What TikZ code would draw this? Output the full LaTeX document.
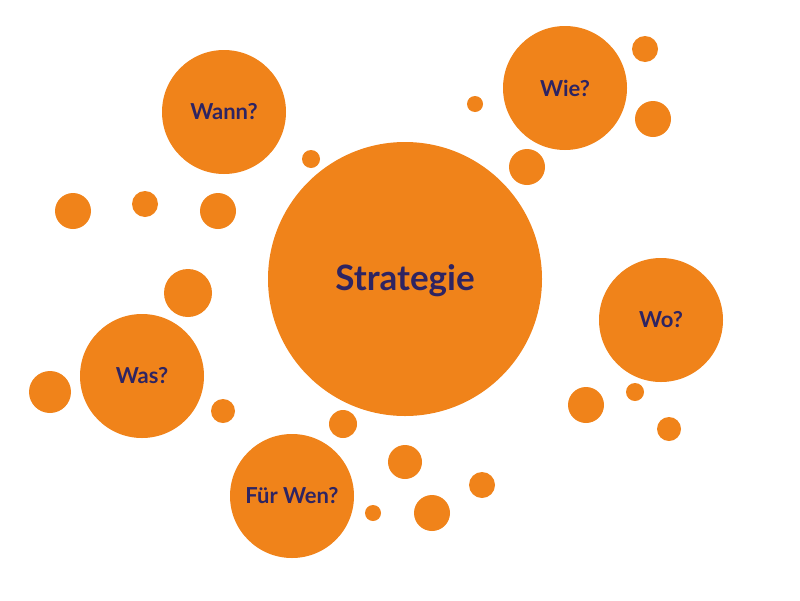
\documentclass[tikz,border=0pt]{standalone}
\usepackage{fontspec}
\setmainfont{Lato}
\definecolor{org}{HTML}{F0831A}
\definecolor{txt}{HTML}{2E2462}
\begin{document}
\begin{tikzpicture}[x=1pt,y=-1pt,
 dot/.style={fill=org,draw=none},
 lab/.style={text=txt,font=\bfseries\fontsize{22}{24}\selectfont}]
\useasboundingbox (0,0) rectangle (800,600);
\fill[dot] (405,279) circle (137);
\node[lab,font=\bfseries\fontsize{35}{38}\selectfont] (s) at (405,281) {Strategie};
\foreach \n/\x/\y/\t in {wann/224/112/Wann?, wie/565/88/Wie?, wo/661/320/Wo?, was/142/376/Was?, fw/292/496/Für Wen?}{
 \fill[dot] (\x,\y) circle (62);
 \node[lab] (\n) at (\x,\y) {\t};
}
\foreach \x/\y/\r in {645/49/13, 653/119/18, 475/104/8, 527/167/18, 311/159/9, 73/211/18, 145/204/13, 218/211/18, 188/293/24, 50/392/21, 223/411/12, 343/424/14, 405/462/17, 432/513/18, 482/485/13, 373/513/8, 586/405/18, 635/392/9, 669/429/12}
 \fill[dot] (\x,\y) circle (\r);
\end{tikzpicture}
\end{document}
